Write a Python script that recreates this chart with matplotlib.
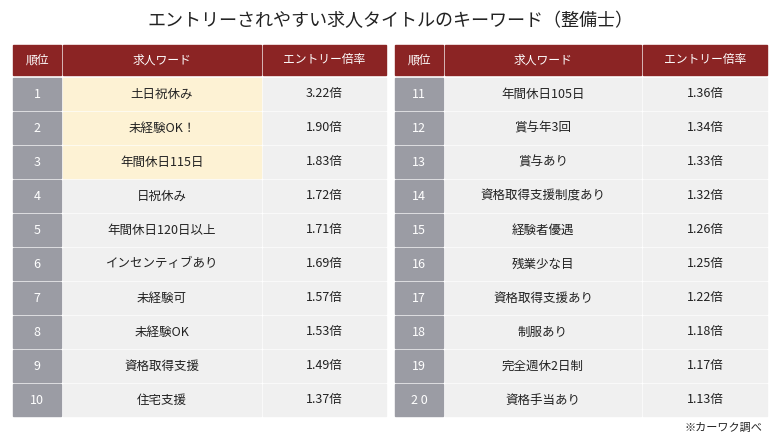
import matplotlib.pyplot as plt
from matplotlib.patches import Rectangle

ranks = list(range(1, 21))
words = ["土日祝休み", "未経験OK！", "年間休日115日", "日祝休み", "年間休日120日以上",
         "インセンティブあり", "未経験可", "未経験OK", "資格取得支援", "住宅支援",
         "年間休日105日", "賞与年3回", "賞与あり", "資格取得支援制度あり", "経験者優遇",
         "残業少な目", "資格取得支援あり", "制服あり", "完全週休2日制", "資格手当あり"]
rates = [3.22, 1.90, 1.83, 1.72, 1.71, 1.69, 1.57, 1.53, 1.49, 1.37,
         1.36, 1.34, 1.33, 1.32, 1.26, 1.25, 1.22, 1.18, 1.17, 1.13]
headers = ["順位", "求人ワード", "エントリー倍率"]
title = "エントリーされやすい求人タイトルのキーワード（整備士）"

plt.rcParams["font.family"] = "Noto Sans CJK JP"
W, H = 780, 438
fig = plt.figure(figsize=(W / 100, H / 100), dpi=100)
ax = fig.add_axes([0, 0, 1, 1])
ax.set_xlim(0, W)
ax.set_ylim(H, 0)
ax.axis("off")

RED = "#8b2424"
GRAY = "#9b9ca4"
LIGHT = "#f0f0f0"
CREAM = "#fdf2d4"

ax.text(W / 2, 21, title, ha="center", va="center", fontsize=13, color="#222222")

tables = [(12, [50, 200, 125]), (394, [50, 198, 126])]
head_y, head_h = 45, 30
row_y0, row_pitch, row_h = 78, 34, 32

for t, (x0, widths) in enumerate(tables):
    xs = [x0]
    for w in widths:
        xs.append(xs[-1] + w)
    for c in range(3):
        ax.add_patch(Rectangle((xs[c] + 1, head_y), widths[c] - 2, head_h, color=RED))
        ax.text(xs[c] + widths[c] / 2, head_y + head_h / 2, headers[c], ha="center",
                va="center", color="white", fontsize=8.5)
    for r in range(10):
        i = t * 10 + r
        y = row_y0 + r * row_pitch
        fills = [GRAY, CREAM if i < 3 else LIGHT, LIGHT]
        label = f"{ranks[i]}" if ranks[i] != 20 else "2 0"
        texts = [label, words[i], f"{rates[i]:.2f}倍"]
        for c in range(3):
            ax.add_patch(Rectangle((xs[c] + 1, y), widths[c] - 2, row_h, color=fills[c]))
            ax.text(xs[c] + widths[c] / 2, y + row_h / 2, texts[c], ha="center", va="center",
                    color="white" if c == 0 else "#222222", fontsize=9)

ax.text(762, 428, "※カーワク調べ", ha="right", va="center", fontsize=8, color="#222222")

fig.savefig("out.png", dpi=100, facecolor="white")
